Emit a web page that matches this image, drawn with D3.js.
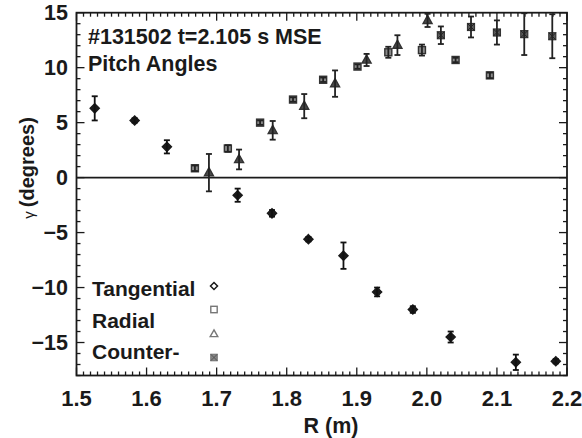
<!DOCTYPE html>
<html><head><meta charset="utf-8">
<script src="https://cdn.jsdelivr.net/npm/d3@7"></script>
<style>
html,body{margin:0;padding:0;background:#fff;}
svg text{font-family:"Liberation Sans",Arial,Helvetica,sans-serif;font-weight:bold;fill:#1a1a1a;}
</style></head>
<body><svg id="c" width="582" height="438"></svg>
<script>
// ---- data ----
const tangR   = [1.526, 1.583, 1.629, 1.730, 1.779, 1.831, 1.881, 1.929, 1.980, 2.034, 2.127, 2.184];
const tangG   = [6.3, 5.2, 2.8, -1.6, -3.25, -5.6, -7.1, -10.4, -12.0, -14.5, -16.8, -16.7];
const tangErr = [1.1, 0.2, 0.6, 0.6, 0.3, 0.2, 1.2, 0.4, 0.3, 0.5, 0.7, 0.2];

const radR   = [1.669, 1.716, 1.762, 1.809, 1.852, 1.901, 1.945, 1.993, 2.041, 2.090];
const radG   = [0.85, 2.65, 5.0, 7.1, 8.9, 10.1, 11.4, 11.6, 10.7, 9.3];
const radErr = [0.25, 0.3, 0.2, 0.2, 0.2, 0.2, 0.5, 0.5, 0.2, 0.25];

const cntR   = [1.689, 1.732, 1.780, 1.825, 1.869, 1.914, 1.958, 2.001];
const cntG   = [0.45, 1.65, 4.3, 6.5, 8.55, 10.7, 12.05, 14.3];
const cntErr = [1.7, 0.9, 0.85, 1.1, 1.2, 0.55, 0.9, 0.6];

const ctrR   = [2.020, 2.063, 2.100, 2.139, 2.179];
const ctrG   = [12.95, 13.7, 13.2, 13.05, 12.86];
const ctrErr = [0.8, 0.95, 1.1, 1.9, 2.0];

const xTicks = [1.5, 1.6, 1.7, 1.8, 1.9, 2.0, 2.1, 2.2];
const yTicks = [-15, -10, -5, 0, 5, 10, 15];
const legendLabels = ["Tangential", "Radial", "Counter-"];
const titleLines = ["#131502 t=2.105 s MSE", "Pitch Angles"];

// ---- layout ----
const L = 76.5, R = 567, T = 12.7, B = 375.5;
const svg = d3.select("#c");
const x = d3.scaleLinear().domain([1.5, 2.2]).range([L, R]);
const y = d3.scaleLinear().domain([-18, 15]).range([B, T]);
const ink = "#1a1a1a";

// minor + major ticks on all sides (inward)
const xMinor = d3.range(150, 221).map(v => v / 100);
const yMinor = d3.range(-18, 16);
const g = svg.append("g").attr("stroke", ink).attr("stroke-width", 1.3);
xMinor.forEach(v => {
  const major = xTicks.some(t => Math.abs(t - v) < 1e-6);
  const len = major ? 8 : 4;
  g.append("line").attr("x1", x(v)).attr("x2", x(v)).attr("y1", B).attr("y2", B - len);
  g.append("line").attr("x1", x(v)).attr("x2", x(v)).attr("y1", T).attr("y2", T + len);
});
yMinor.forEach(v => {
  const major = yTicks.includes(v);
  const len = major ? 8 : 4;
  g.append("line").attr("y1", y(v)).attr("y2", y(v)).attr("x1", L).attr("x2", L + len);
  g.append("line").attr("y1", y(v)).attr("y2", y(v)).attr("x1", R).attr("x2", R - len);
});

// frame
svg.append("rect").attr("x", L).attr("y", T).attr("width", R - L).attr("height", B - T)
  .attr("fill", "none").attr("stroke", ink).attr("stroke-width", 1.8);

// zero line
svg.append("line").attr("x1", L).attr("x2", R).attr("y1", y(0)).attr("y2", y(0))
  .attr("stroke", ink).attr("stroke-width", 1.8);

// tick labels
svg.append("g").selectAll("text").data(xTicks).join("text")
  .attr("x", d => x(d)).attr("y", 406).attr("text-anchor", "middle")
  .attr("font-size", 22).text(d => d.toFixed(1));
svg.append("g").selectAll("text").data(yTicks).join("text")
  .attr("x", 68).attr("y", d => y(d) + 7.5).attr("text-anchor", "end")
  .attr("font-size", 21.5).text(d => d < 0 ? "\u2212" + Math.abs(d) : String(d));

// axis titles
svg.append("text").attr("x", 331).attr("y", 433).attr("text-anchor", "middle")
  .attr("font-size", 21.5).text("R (m)");
svg.append("text").attr("transform", "translate(34,168) rotate(-90)").attr("text-anchor", "middle")
  .attr("font-size", 20)
  .call(t => { t.append("tspan").attr("font-size", 15).attr("font-weight", "normal").text("\u03b3 "); t.append("tspan").text("(degrees)"); });

// title
svg.append("g").selectAll("text").data(titleLines).join("text")
  .attr("x", 88).attr("y", (d, i) => 44 + i * 26.5).attr("font-size", 21.5).text(d => d);

// error bars helper
function errBars(Rs, Gs, Es, color) {
  const gg = svg.append("g").attr("stroke", color).attr("stroke-width", 1.8);
  Rs.forEach((r, i) => {
    const cx = x(r), y1 = y(Gs[i] + Es[i]), y2 = y(Gs[i] - Es[i]);
    gg.append("line").attr("x1", cx).attr("x2", cx).attr("y1", y1).attr("y2", y2);
    gg.append("line").attr("x1", cx - 3).attr("x2", cx + 3).attr("y1", y1).attr("y2", y1);
    gg.append("line").attr("x1", cx - 3).attr("x2", cx + 3).attr("y1", y2).attr("y2", y2);
  });
}

// symbol painters
const sym = {
  diamond: (sel, cx, cy, s, filled) => sel.append("path")
    .attr("d", `M${cx},${cy - s}L${cx + s},${cy}L${cx},${cy + s}L${cx - s},${cy}Z`)
    .attr("fill", filled ? ink : "#fff").attr("stroke", ink).attr("stroke-width", 1.5),
  square: (sel, cx, cy, s, filled) => sel.append("rect")
    .attr("x", cx - s).attr("y", cy - s).attr("width", 2 * s).attr("height", 2 * s)
    .attr("fill", filled ? "#8a8a8a" : "#fff").attr("stroke", filled ? "#333" : "#777").attr("stroke-width", 1.4),
  triangle: (sel, cx, cy, s, filled) => sel.append("path")
    .attr("d", `M${cx},${cy - s * 1.1}L${cx + s},${cy + s * 0.7}L${cx - s},${cy + s * 0.7}Z`)
    .attr("fill", filled ? "#4a4a4a" : "#fff").attr("stroke", filled ? "#333" : "#777").attr("stroke-width", 1.4),
  cross: (sel, cx, cy, s, filled) => {
    sel.append("rect").attr("x", cx - s).attr("y", cy - s).attr("width", 2 * s).attr("height", 2 * s)
      .attr("fill", filled ? "#5a5a5a" : "#888").attr("stroke", filled ? "#333" : "#777").attr("stroke-width", 1.2);
    sel.append("path").attr("d", `M${cx - s},${cy - s}L${cx + s},${cy + s}M${cx + s},${cy - s}L${cx - s},${cy + s}`)
      .attr("stroke", filled ? "#222" : "#555").attr("stroke-width", 1);
  }
};

function series(Rs, Gs, Es, kind, size, barColor) {
  const gm = svg.append("g");
  if (kind !== "square") errBars(Rs, Gs, Es, barColor);
  Rs.forEach((r, i) => sym[kind](gm, x(r), y(Gs[i]), size, true));
  if (kind === "square") errBars(Rs, Gs, Es, barColor);
}

series(radR, radG, radErr, "square", 3.5, "#222");
series(cntR, cntG, cntErr, "triangle", 4.5, "#222");
series(ctrR, ctrG, ctrErr, "cross", 3.5, "#222");
series(tangR, tangG, tangErr, "diamond", 4.5, "#111");

// legend
const lg = svg.append("g");
lg.selectAll("text").data(legendLabels).join("text")
  .attr("x", 92).attr("y", (d, i) => 296 + i * 31.5).attr("font-size", 21).text(d => d);
const legSymY = [286, 309.5, 334, 357.5];
sym.diamond(lg, 214, legSymY[0], 3.5, false);
sym.square(lg, 214, legSymY[1], 3.2, false);
sym.triangle(lg, 214, legSymY[2], 3.8, false);
sym.cross(lg, 214, legSymY[3], 3.2, false);
</script></body></html>
